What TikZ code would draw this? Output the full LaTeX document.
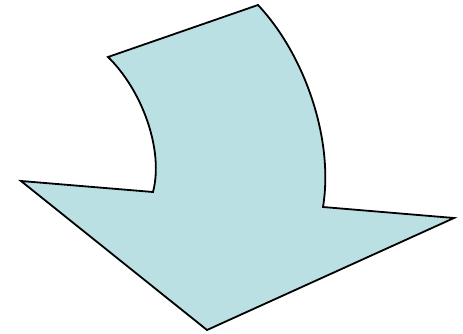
\documentclass[tikz,border=0pt]{standalone}
\definecolor{arrowfill}{RGB}{187,224,227}
\begin{document}
\begin{tikzpicture}[x=1pt,y=-1pt,
  arrowshape/.style={fill=arrowfill,draw=black,line width=1.8pt,line join=miter}]
\useasboundingbox (0,0) rectangle (463,333);
\coordinate (tl) at (108,57);
\coordinate (tr) at (258,5);
\coordinate (ri) at (323,207);
\coordinate (ro) at (454,218);
\coordinate (tip) at (207,330);
\coordinate (lo) at (21,181);
\coordinate (li) at (153,192);
\draw[arrowshape] (tl) -- (tr)
  .. controls (305,55) and (334,140) .. (ri)
  -- (ro) -- (tip) -- (lo) -- (li)
  .. controls (164,150) and (142,90) .. (tl) -- cycle;
\end{tikzpicture}
\end{document}
